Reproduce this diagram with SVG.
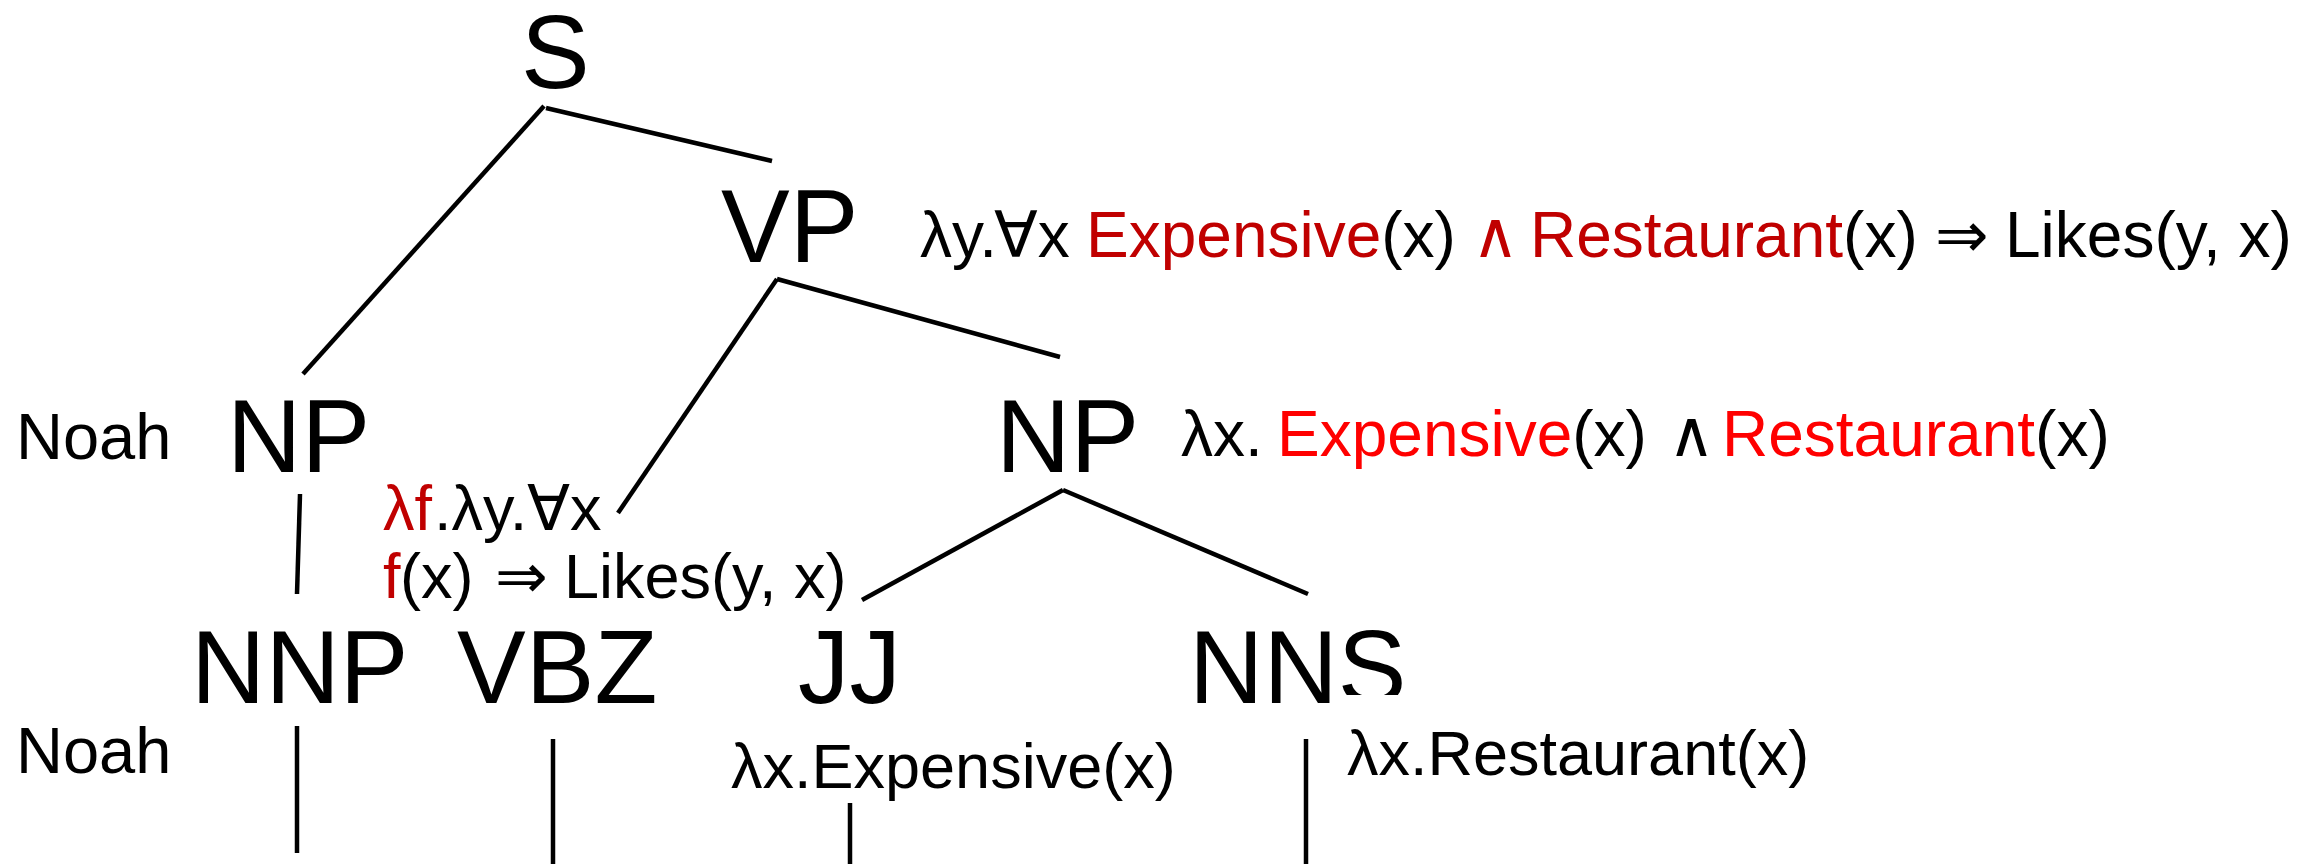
<svg xmlns="http://www.w3.org/2000/svg" width="2305" height="864" viewBox="0 0 2305 864">
<style>
text{font-family:"Liberation Sans",Arial,"DejaVu Sans",sans-serif;fill:#000}
.cat{font-size:103px}
.word{font-size:65px}
.sem{font-size:63px}
.sem2{font-size:64px}
.dr{fill:#C00000}
.br{fill:#FF0000}
.edge{stroke:#000;stroke-width:4.5;fill:none;stroke-linecap:butt}
</style>
<rect width="2305" height="864" fill="#fff"/>
<g id="connectors">
<line class="edge" x1="544" y1="106" x2="303" y2="374"/>
<line class="edge" x1="546" y1="108" x2="772" y2="161"/>
<line class="edge" x1="777" y1="279" x2="618" y2="513"/>
<line class="edge" x1="777" y1="279" x2="1060" y2="357"/>
<line class="edge" x1="300" y1="494" x2="297" y2="594"/>
<line class="edge" x1="1063" y1="490" x2="862" y2="600"/>
<line class="edge" x1="1063" y1="490" x2="1308" y2="594"/>
<line class="edge" x1="297" y1="726" x2="297" y2="853"/>
<line class="edge" x1="553" y1="739" x2="553" y2="864"/>
<line class="edge" x1="850" y1="803" x2="850" y2="864"/>
<line class="edge" x1="1306" y1="739" x2="1306" y2="864"/>
</g>
<g id="node-S"><text class="cat" x="521" y="88">S</text></g>
<g id="node-VP">
<text class="cat" x="721" y="262">VP</text>
<text class="sem2" y="257"><tspan x="920">λy.</tspan><tspan x="994">∀x</tspan><tspan class="dr" x="1086">Expensive</tspan><tspan>(x)</tspan><tspan class="dr" x="1472">∧</tspan><tspan class="dr" x="1530">Restaurant</tspan><tspan>(x)</tspan><tspan x="1935">⇒</tspan><tspan x="2005">Likes(y, x)</tspan></text>
</g>
<g id="node-NP-subj">
<text class="word" x="16" y="459">Noah</text>
<text class="cat" x="227" y="472">NP</text>
</g>
<g id="node-NP-obj">
<text class="cat" x="996" y="472">NP</text>
<text class="sem2" y="456"><tspan x="1181">λx.</tspan><tspan class="br" x="1277">Expensive</tspan><tspan>(x)</tspan><tspan x="1668">∧</tspan><tspan class="br" x="1722">Restaurant</tspan><tspan>(x)</tspan></text>
</g>
<g id="node-NNP">
<text class="cat" x="191" y="703">NNP</text>
<text class="word" x="16" y="773">Noah</text>
</g>
<g id="node-VBZ">
<text class="cat" x="457" y="703">VBZ</text>
<text class="sem" y="530"><tspan class="dr" x="383">λf</tspan><tspan x="434">.λy.</tspan><tspan x="527">∀x</tspan></text>
<text class="sem" y="598"><tspan class="dr" x="383">f</tspan><tspan x="400">(x)</tspan><tspan x="495">⇒</tspan><tspan x="564">Likes(y, x)</tspan></text>
</g>
<g id="node-JJ">
<text class="cat" x="798" y="703">JJ</text>
<text class="sem" x="731" y="788">λx.Expensive(x)</text>
</g>
<g id="node-NNS">
<text class="cat" x="1189" y="703">NNS</text>
<rect x="1335" y="695" width="75" height="12" fill="#fff"/>
<text class="sem" x="1347" y="775">λx.Restaurant(x)</text>
</g>
</svg>
